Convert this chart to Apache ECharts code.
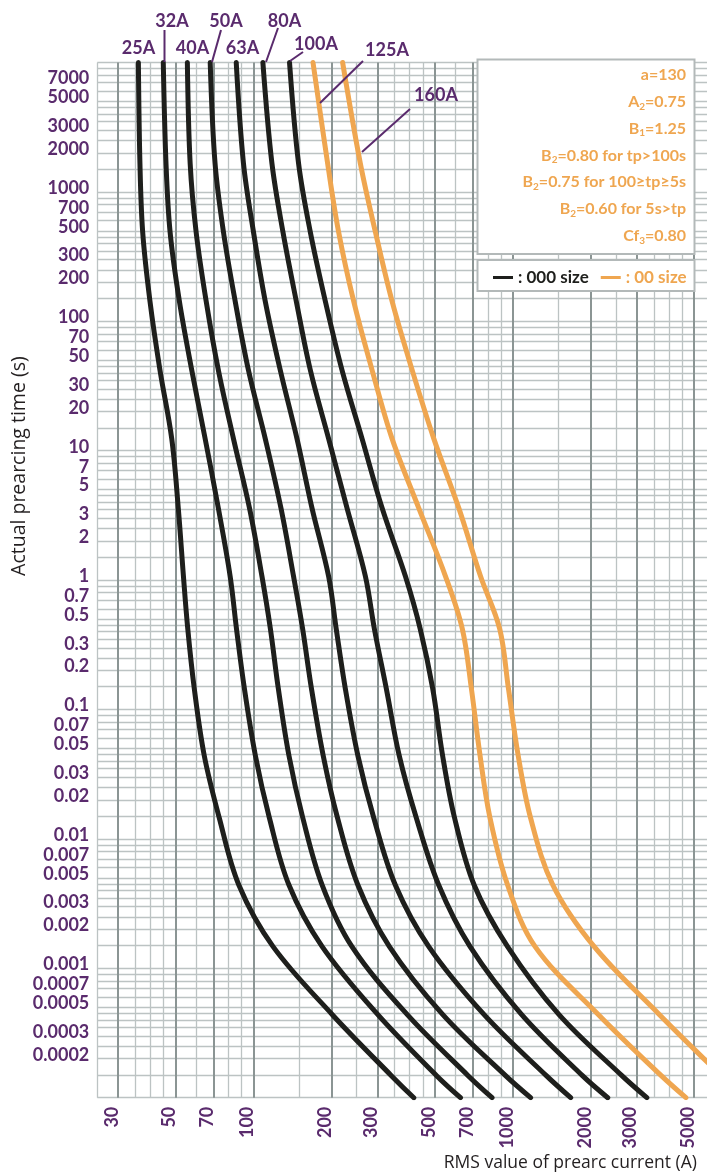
<!DOCTYPE html>
<html><head><meta charset="utf-8">
<script src="https://cdn.jsdelivr.net/npm/echarts@6/dist/echarts.min.js"></script>
<style>html,body{margin:0;padding:0;background:#fff}#c{width:707px;height:1176px}</style>
</head><body><div id="c"></div>
<script>
// ---- data ----
const times = [10000, 1660, 490, 143, 42, 12.4, 3.6, 1.07, 0.42, 0.146, 0.044, 0.0147, 0.0044, 0.00147, 0.00044, 0.000148, 0.0001];
const current25A  = [36.0, 36.5, 37.4, 39.9, 43.6, 48.4, 51.3, 53.7, 55.8, 59.1, 64.6, 73.7, 87.8, 119, 201, 340, 415];
const current32A  = [44.9, 46.0, 47.7, 51.8, 57.8, 65.1, 73.2, 81.3, 86.0, 92.2, 101.7, 115, 137, 184, 301, 508, 628];
const current40A  = [55.6, 57.0, 60.1, 65.7, 73.2, 83.7, 96.5, 107.8, 116.2, 124.6, 137, 154.7, 184, 239.7, 391, 672, 831];
const current50A  = [68.1, 71.1, 76.6, 85.0, 95.6, 111, 127.6, 142.7, 154.7, 167.2, 185.7, 210.5, 252.6, 334.2, 535.8, 937, 1170];
const current63A  = [85.8, 91.5, 100, 111, 126.8, 147.1, 168.1, 194.8, 208.4, 225.8, 252.6, 290.4, 352.2, 474, 773, 1345, 1670];
const current80A  = [108.7, 117.8, 129.9, 146.2, 165.6, 194.8, 229.4, 270, 292.4, 324.9, 364.6, 423.6, 517.5, 684, 1079, 1854, 2321];
const current100A = [137.7, 149.2, 165.6, 189.2, 219.4, 262.1, 313.2, 385.2, 439.2, 490.5, 535.8, 595, 709, 954, 1503, 2631, 3283];
const current125A = [169.6, 193.1, 212.9, 243.3, 286.5, 342.1, 433.7, 549.8, 638.3, 691.5, 747.1, 815, 954, 1218, 2133, 3731, 4644];
const current160A = [220.6, 258.2, 295.1, 342.1, 408.9, 495.5, 618.8, 750.4, 889.4, 960.8, 1048, 1168, 1426, 2058, 3665, 6340, 7690];

const ratings = ['25A', '32A', '40A', '50A', '63A', '80A', '100A', '125A', '160A'];
const fuseSize = ['000', '000', '000', '000', '000', '000', '000', '00', '00'];
const currents = [current25A, current32A, current40A, current50A, current63A, current80A, current100A, current125A, current160A];

const xTickLabels = [30, 50, 70, 100, 200, 300, 500, 700, 1000, 2000, 3000, 5000];
const yTickLabels = [7000, 5000, 3000, 2000, 1000, 700, 500, 300, 200, 100, 70, 50, 30, 20, 10, 7, 5, 3, 2, 1,
  0.7, 0.5, 0.3, 0.2, 0.1, 0.07, 0.05, 0.03, 0.02, 0.01, 0.007, 0.005, 0.003, 0.002, 0.001, 0.0007, 0.0005, 0.0003, 0.0002];
const gridMantissas = [1, 1.5, 2, 2.5, 3, 3.5, 4, 4.5, 5, 6, 7, 8, 9];
const legendNames = [': 000 size', ': 00 size'];
const paramLines = ['a=130', 'A{s|2}=0.75', 'B{s|1}=1.25', 'B{s|2}=0.80 for tp>100s', 'B{s|2}=0.75 for 100≥tp≥5s', 'B{s|2}=0.60 for 5s>tp', 'Cf{s|3}=0.80'];

const X_MIN = 25, X_MAX = 5600, Y_MIN = 1e-4, Y_MAX = 1e4;

// ---- styles ----
const PURPLE = '#5a2b6d', BLACK = '#1e1f1c', ORANGE = '#efa650';
const LIGHT = '#bcc3c3', DARK = '#8b9594';
const lg = Math.log10;

function gridValues(lo, hi) {
  const out = [];
  for (let e = -5; e <= 5; e++) {
    gridMantissas.forEach(m => {
      const v = m * Math.pow(10, e);
      if (v >= lo * 0.9999 && v <= hi * 1.0001) out.push(lg(v));
    });
  }
  return out;
}
const xMajorLog = xTickLabels.map(lg);
const xMinorLog = gridValues(X_MIN, X_MAX).filter(v => !xMajorLog.some(m => Math.abs(m - v) < 1e-6));
const yGridLog = gridValues(Y_MIN, Y_MAX);
const yLabelLog = yTickLabels.map(lg);
const xLabelMap = {}; xTickLabels.forEach(v => xLabelMap[lg(v).toFixed(5)] = String(v));
const yLabelMap = {}; yTickLabels.forEach(v => yLabelMap[lg(v).toFixed(5)] = String(v));

const labelFont = { fontFamily: 'Lato', fontWeight: 700, fontSize: 18, color: PURPLE };

const series = currents.map((arr, i) => ({
  type: 'line',
  name: fuseSize[i] === '000' ? legendNames[0] : legendNames[1],
  id: ratings[i],
  xAxisIndex: 0, yAxisIndex: 0,
  data: arr.map((c, k) => [c, times[k]]),
  symbol: 'none', showSymbol: false, smooth: 0.35, clip: true,
  lineStyle: { width: 5, color: fuseSize[i] === '000' ? BLACK : ORANGE, cap: 'round' },
  itemStyle: { color: fuseSize[i] === '000' ? BLACK : ORANGE },
  emphasis: { disabled: true }, z: 5
}));

// annotations: rating labels with leaders
const ratingLabelPos = [[138.5, 48], [172, 21], [192.5, 48], [226, 21], [242.5, 48], [284.5, 21], [316, 44], [387, 50], [436, 95]];
const leaders = [null, [164.5, 30, 164.5, 62], null, [221, 30, 212, 62], null, [278, 28, 266, 62], [303, 52, 290, 61],
  [363, 61, 320, 103], [410, 109, 362, 152]];

const graphic = [];
ratings.forEach((r, i) => {
  graphic.push({ type: 'text', x: ratingLabelPos[i][0], y: ratingLabelPos[i][1], z: 20,
    style: { text: r, align: 'center', verticalAlign: 'middle', font: '700 18px Lato', fill: PURPLE } });
  if (leaders[i]) graphic.push({ type: 'line', z: 20,
    shape: { x1: leaders[i][0], y1: leaders[i][1], x2: leaders[i][2], y2: leaders[i][3] },
    style: { stroke: PURPLE, lineWidth: 2 } });
});
graphic.push({ type: 'rect', z: 15, shape: { x: 477.5, y: 59.5, width: 217, height: 194.5 },
  style: { fill: '#fff', stroke: '#b3b9b9', lineWidth: 2 } });
graphic.push({ type: 'rect', z: 15, shape: { x: 477.5, y: 260, width: 217, height: 31 },
  style: { fill: '#fff', stroke: '#b3b9b9', lineWidth: 2 } });
paramLines.forEach((t, i) => {
  graphic.push({ type: 'text', z: 20, x: 686, y: 75 + i * 26.8,
    style: { text: t, align: 'right', verticalAlign: 'middle', font: '700 16px Lato', fill: ORANGE,
      rich: { s: { fontSize: 10, fontWeight: 700, fontFamily: 'Lato', fill: ORANGE, padding: [9, 0, 0, 0] } } } });
});

const chart = echarts.init(document.getElementById('c'), null, { renderer: 'canvas' });
chart.setOption({
  animation: false,
  backgroundColor: '#fff',
  grid: { left: 97.3, right: 0, top: 62.5, bottom: 78.3, outerBoundsMode: 'none', containLabel: false },
  legend: {
    left: 488, top: 264, itemWidth: 20, itemHeight: 3, itemGap: 12, selectedMode: false,
    icon: 'rect',
    textStyle: { fontFamily: 'Lato', fontWeight: 700, fontSize: 17 },
    data: [{ name: legendNames[0], textStyle: { color: BLACK } }, { name: legendNames[1], textStyle: { color: ORANGE } }],
    z: 25
  },
  xAxis: [
    { type: 'log', logBase: 10, min: X_MIN, max: X_MAX, show: false },
    { type: 'value', position: 'bottom', min: lg(X_MIN), max: lg(X_MAX),
      axisLine: { show: false }, axisTick: { show: false, customValues: xMinorLog },
      axisLabel: { show: false }, splitLine: { show: true, lineStyle: { color: LIGHT, width: 1.3 } } },
    { type: 'value', position: 'bottom', min: lg(X_MIN), max: lg(X_MAX),
      name: 'RMS value of prearc current (A)', nameLocation: 'end', nameGap: -10, nameMoveOverlap: false,
      nameTextStyle: { fontFamily: 'Open Sans', fontSize: 17.5, color: '#231f20', align: 'right', verticalAlign: 'top', padding: [56, 0, 0, 0] },
      axisLine: { show: false }, axisTick: { show: false, customValues: xMajorLog },
      axisLabel: Object.assign({ show: true, customValues: xMajorLog, rotate: 90, margin: 9,
        verticalAlign: 'bottom', lineHeight: 12,
        formatter: v => xLabelMap[v.toFixed(5)] || '' }, labelFont),
      splitLine: { show: true, lineStyle: { color: DARK, width: 2 } } }
  ],
  yAxis: [
    { type: 'log', logBase: 10, min: Y_MIN, max: Y_MAX, show: false },
    { type: 'value', position: 'left', min: lg(Y_MIN), max: lg(Y_MAX),
      axisLine: { show: false }, axisTick: { show: false, customValues: yGridLog },
      axisLabel: { show: false }, splitLine: { show: true, lineStyle: { color: LIGHT, width: 1.3 } } },
    { type: 'value', position: 'left', min: lg(Y_MIN), max: lg(Y_MAX),
      name: 'Actual prearcing time (s)', nameLocation: 'middle', nameRotate: 90, nameGap: 68, nameMoveOverlap: false,
      nameTextStyle: { fontFamily: 'Open Sans', fontSize: 19.5, color: '#231f20', padding: [0, 0, 0, 228] },
      axisLine: { show: false }, axisTick: { show: false, customValues: yLabelLog },
      axisLabel: Object.assign({ show: true, customValues: yLabelLog, margin: 8,
        verticalAlign: 'bottom', lineHeight: 8,
        formatter: v => yLabelMap[v.toFixed(5)] || '' }, labelFont),
      splitLine: { show: false } }
  ],
  series: series,
  graphic: graphic
});
</script>
</body></html>
